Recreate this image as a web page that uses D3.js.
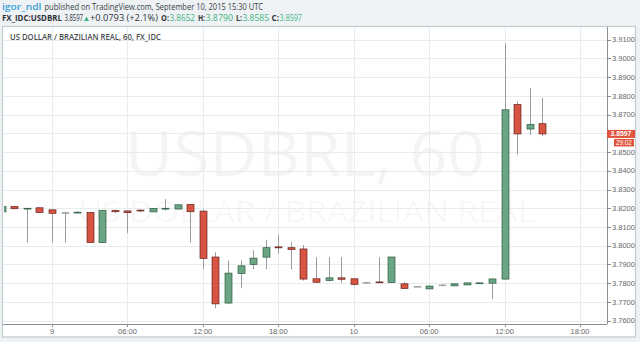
<!DOCTYPE html>
<html>
<head>
<meta charset="utf-8">
<script src="https://cdn.jsdelivr.net/npm/d3@7"></script>
<style>
  html, body { margin: 0; padding: 0; background: #eef2f5; }
  svg { display: block; }
</style>
</head>
<body>
<div id="chart"></div>
<script>
// hourly bars, UTC
const TIMES = [
  "2015-09-08T20:00Z", "2015-09-08T21:00Z", "2015-09-08T22:00Z", "2015-09-08T23:00Z",
  "2015-09-09T00:00Z", "2015-09-09T01:00Z", "2015-09-09T02:00Z", "2015-09-09T03:00Z",
  "2015-09-09T04:00Z", "2015-09-09T05:00Z", "2015-09-09T06:00Z", "2015-09-09T07:00Z",
  "2015-09-09T08:00Z", "2015-09-09T09:00Z", "2015-09-09T10:00Z", "2015-09-09T11:00Z",
  "2015-09-09T12:00Z", "2015-09-09T13:00Z", "2015-09-09T14:00Z", "2015-09-09T15:00Z",
  "2015-09-09T16:00Z", "2015-09-09T17:00Z", "2015-09-09T18:00Z", "2015-09-09T19:00Z",
  "2015-09-09T20:00Z", "2015-09-09T21:00Z", "2015-09-09T22:00Z", "2015-09-09T23:00Z",
  "2015-09-10T00:00Z", "2015-09-10T01:00Z", "2015-09-10T02:00Z", "2015-09-10T03:00Z",
  "2015-09-10T04:00Z", "2015-09-10T05:00Z", "2015-09-10T06:00Z", "2015-09-10T07:00Z",
  "2015-09-10T08:00Z", "2015-09-10T09:00Z", "2015-09-10T10:00Z", "2015-09-10T11:00Z",
  "2015-09-10T12:00Z", "2015-09-10T13:00Z", "2015-09-10T14:00Z", "2015-09-10T15:00Z"
];
const OPEN = [
  3.8181, 3.8210, 3.8199, 3.8203, 3.8192, 3.8177, 3.8177, 3.8178, 3.8017, 3.8189, 3.8186,
  3.8190, 3.8181, 3.8198, 3.8196, 3.8221, 3.8185, 3.7940, 3.7694, 3.7852, 3.7900, 3.7939,
  3.7994, 3.7990, 3.7983, 3.7824, 3.7815, 3.7829, 3.7824, 3.7804, 3.7807, 3.7804, 3.7797,
  3.7783, 3.7770, 3.7791, 3.7786, 3.7791, 3.7798, 3.7800, 3.7822, 3.8754, 3.8623, 3.8652
];
const HIGH = [
  3.8215, 3.8212, 3.8201, 3.8204, 3.8194, 3.8183, 3.8183, 3.8180, 3.8192, 3.8192, 3.8188,
  3.8195, 3.8200, 3.8249, 3.8221, 3.8223, 3.8194, 3.7965, 3.7921, 3.7921, 3.7976, 3.8031,
  3.8058, 3.8022, 3.8004, 3.7939, 3.7939, 3.7939, 3.7826, 3.7808, 3.7939, 3.7941, 3.7806,
  3.7785, 3.7788, 3.7795, 3.7799, 3.7804, 3.7804, 3.7826, 3.9080, 3.8770, 3.8841, 3.8790
];
const LOW = [
  3.8178, 3.8194, 3.8017, 3.8176, 3.8017, 3.8017, 3.8173, 3.8015, 3.8015, 3.8175, 3.8067,
  3.8180, 3.8180, 3.8188, 3.8194, 3.8017, 3.7875, 3.7666, 3.7690, 3.7774, 3.7875, 3.7875,
  3.7957, 3.7875, 3.7814, 3.7803, 3.7809, 3.7802, 3.7788, 3.7797, 3.7803, 3.7803, 3.7770,
  3.7780, 3.7768, 3.7784, 3.7784, 3.7790, 3.7796, 3.7715, 3.7820, 3.8487, 3.8591, 3.8585
];
const CLOSE = [
  3.8210, 3.8198, 3.8200, 3.8178, 3.8173, 3.8177, 3.8179, 3.8017, 3.8189, 3.8182, 3.8177,
  3.8188, 3.8199, 3.8200, 3.8219, 3.8182, 3.7932, 3.7690, 3.7854, 3.7893, 3.7934, 3.7990,
  3.7989, 3.7980, 3.7822, 3.7805, 3.7829, 3.7821, 3.7793, 3.7804, 3.7805, 3.7940, 3.7772,
  3.7783, 3.7785, 3.7791, 3.7797, 3.7802, 3.7802, 3.7823, 3.8726, 3.8597, 3.8648, 3.8597
];

const PRICE_TICKS = [3.76, 3.77, 3.78, 3.79, 3.80, 3.81, 3.82, 3.83, 3.84, 3.85, 3.86, 3.87, 3.88, 3.89, 3.90, 3.91];
const TIME_TICKS = [
  "2015-09-09T00:00Z", "2015-09-09T06:00Z", "2015-09-09T12:00Z", "2015-09-09T18:00Z",
  "2015-09-10T00:00Z", "2015-09-10T06:00Z", "2015-09-10T12:00Z", "2015-09-10T18:00Z"
];
const TIME_LABELS = ["9", "06:00", "12:00", "18:00", "10", "06:00", "12:00", "18:00"];

const LAST_PRICE = 3.8597;
const COUNTDOWN = "29:02";

// layout / style
const W = 640, H = 342;
const plot = { left: 3, right: 607, top: 27, bottom: 324 };
const C = {
  up: "#6ba583", upBorder: "#225437",
  down: "#d75442", downBorder: "#5b1a13",
  wick: "#9a9c9f",
  grid: "#e9ecee",
  axis: "#8a8f94",
  label: "#666",
  green: "#3fb27f",
  red: "#e0533d"
};

const bars = TIMES.map((t, i) => ({
  t: new Date(t), o: OPEN[i], h: HIGH[i], l: LOW[i], c: CLOSE[i]
}));

const x = d3.scaleUtc()
  .domain([new Date("2015-09-08T20:06Z"), new Date("2015-09-10T20:09Z")])
  .range([plot.left, plot.right]);
const y = d3.scaleLinear()
  .domain([3.76, 3.91])
  .range([320.7, 39.7]);

const svg = d3.select("#chart").append("svg")
  .attr("width", W).attr("height", H)
  .style("font-family", "'Open Sans', 'DejaVu Sans', sans-serif");

// header
const hdr = svg.append("g");
function seg(txt, x0, x1, yb, opts = {}) {
  hdr.append("text")
    .attr("x", x0).attr("y", yb)
    .attr("textLength", x1 - x0).attr("lengthAdjust", "spacingAndGlyphs")
    .attr("font-size", opts.size || 8.5)
    .attr("font-weight", opts.weight || 400)
    .attr("fill", opts.fill || "#333")
    .text(txt);
}
seg("igor_ndl", 2, 41.5, 9.5, { fill: "#3a9fd8", weight: 600 });
seg("published on TradingView.com, September 10, 2015 15:30 UTC", 44.5, 263, 9.5, { fill: "#3a3f44" });
seg("FX_IDC:USDBRL", 2, 62, 21, { weight: 700, fill: "#2e3338" });
seg("3.8597", 64.5, 83, 21, { fill: "#2e3338" });
hdr.append("path").attr("d", "M84,21 L86.5,16.5 L89,21 Z").attr("fill", C.green);
seg("+0.0793 (+2.1%)", 90, 158, 21, { fill: "#2e3338" });
[["O:", 161, 169, "3.8652", 195], ["H:", 198, 205, "3.8790", 233],
 ["L:", 236, 242, "3.8585", 269], ["C:", 271.5, 279, "3.8597", 302]].forEach(d => {
  seg(d[0], d[1], d[2], 21, { weight: 700, fill: "#2e3338" });
  seg(d[3], d[2] + 0.5, d[4], 21, { fill: C.green });
});

// panel
svg.append("rect")
  .attr("x", 2.5).attr("y", 26.5).attr("width", 633).attr("height", 310.5)
  .attr("fill", "#fff").attr("stroke", "#c3c9ce").attr("stroke-width", 1.2);

// watermark
const wm = svg.append("g").attr("fill", "#000").attr("fill-opacity", 0.045);
wm.append("text").attr("x", 125).attr("y", 176).attr("font-size", 62)
  .attr("textLength", 360).attr("lengthAdjust", "spacingAndGlyphs").text("USDBRL, 60");
wm.append("text").attr("x", 78).attr("y", 222).attr("font-size", 30)
  .attr("textLength", 457).attr("lengthAdjust", "spacingAndGlyphs").text("US DOLLAR / BRAZILIAN REAL");

// grid
const grid = svg.append("g").attr("stroke", C.grid).attr("shape-rendering", "crispEdges");
grid.selectAll("line.h").data(PRICE_TICKS).join("line")
  .attr("x1", plot.left).attr("x2", plot.right)
  .attr("y1", d => Math.round(y(d)) + 0.5).attr("y2", d => Math.round(y(d)) + 0.5);
grid.selectAll("line.v").data(TIME_TICKS).join("line")
  .attr("x1", d => Math.round(x(new Date(d))) + 0.5).attr("x2", d => Math.round(x(new Date(d))) + 0.5)
  .attr("y1", plot.top).attr("y2", plot.bottom);

// title
svg.append("text")
  .attr("x", 10).attr("y", 40)
  .attr("textLength", 151).attr("lengthAdjust", "spacingAndGlyphs")
  .attr("font-size", 8.5).attr("font-weight", 600).attr("fill", "#474c51")
  .text("US DOLLAR / BRAZILIAN REAL, 60, FX_IDC");

// candles
svg.append("clipPath").attr("id", "plotClip").append("rect")
  .attr("x", plot.left + 1).attr("y", plot.top).attr("width", plot.right - plot.left - 1)
  .attr("height", plot.bottom - plot.top);
const cg = svg.append("g").attr("clip-path", "url(#plotClip)");
const candle = cg.selectAll("g").data(bars).join("g")
  .attr("transform", d => `translate(${Math.round(x(d.t)) + 0.5},0)`);
candle.append("line")
  .attr("y1", d => y(d.h)).attr("y2", d => y(d.l))
  .attr("stroke", C.wick).attr("stroke-width", 1);
candle.append("rect")
  .attr("x", -3.5).attr("width", 7)
  .attr("y", d => y(Math.max(d.o, d.c)))
  .attr("height", d => Math.max(0.8, Math.abs(y(d.o) - y(d.c))))
  .attr("fill", d => d.c >= d.o ? C.up : C.down)
  .attr("stroke", d => d.c === d.o ? "#a0a3a6" : (d.c > d.o ? C.upBorder : C.downBorder))
  .attr("stroke-width", 0.8)
  .attr("stroke-opacity", 0.8);

// price axis
const yl = y(LAST_PRICE);
const pa = svg.append("g").attr("shape-rendering", "crispEdges");
pa.append("line").attr("x1", plot.right + 0.5).attr("x2", plot.right + 0.5)
  .attr("y1", plot.top).attr("y2", plot.bottom).attr("stroke", C.axis);
pa.selectAll("line.t").data(PRICE_TICKS).join("line")
  .attr("x1", plot.right).attr("x2", plot.right + 4)
  .attr("y1", d => Math.round(y(d)) + 0.5).attr("y2", d => Math.round(y(d)) + 0.5)
  .attr("stroke", C.axis);
// labels hidden behind the last-price marker are skipped, as on the original
svg.append("g").selectAll("text")
  .data(PRICE_TICKS.filter(d => Math.abs(y(d) - yl) > 8 && !(y(d) > yl && y(d) - yl < 14)))
  .join("text")
  .attr("x", 612).attr("y", d => y(d)).attr("dy", "0.35em")
  .attr("font-family", "'Liberation Sans', Arial, sans-serif")
  .attr("font-size", 7.5).attr("fill", C.label)
  .text(d3.format(".4f"));

// time axis
const ta = svg.append("g").attr("shape-rendering", "crispEdges");
ta.append("line").attr("x1", plot.left).attr("x2", plot.right)
  .attr("y1", plot.bottom + 0.5).attr("y2", plot.bottom + 0.5).attr("stroke", C.axis);
ta.selectAll("line.t").data(TIME_TICKS).join("line")
  .attr("x1", d => Math.round(x(new Date(d))) + 0.5).attr("x2", d => Math.round(x(new Date(d))) + 0.5)
  .attr("y1", plot.bottom).attr("y2", plot.bottom + 3).attr("stroke", C.axis);
svg.append("g").selectAll("text").data(TIME_TICKS).join("text")
  .attr("x", d => x(new Date(d))).attr("y", 333.5)
  .attr("text-anchor", "middle")
  .attr("font-family", "'Liberation Sans', Arial, sans-serif")
  .attr("font-size", 7.5).attr("fill", C.label)
  .text((d, i) => TIME_LABELS[i]);

// last price + countdown
svg.append("rect").attr("x", 607).attr("y", yl - 4).attr("width", 28).attr("height", 8)
  .attr("fill", C.red);
svg.append("text").attr("x", 621).attr("y", yl + 2.4)
  .attr("text-anchor", "middle").attr("font-family", "'Liberation Sans', Arial, sans-serif")
  .attr("font-size", 6.8).attr("font-weight", 700).attr("fill", "#fff").text(d3.format(".4f")(LAST_PRICE));
svg.append("rect").attr("x", 614).attr("y", yl + 5).attr("width", 20).attr("height", 7.5)
  .attr("fill", C.red);
svg.append("text").attr("x", 624).attr("y", yl + 11)
  .attr("text-anchor", "middle").attr("font-family", "'Liberation Sans', Arial, sans-serif")
  .attr("font-size", 6.3).attr("fill", "#fff").text(COUNTDOWN);
</script>
</body>
</html>
